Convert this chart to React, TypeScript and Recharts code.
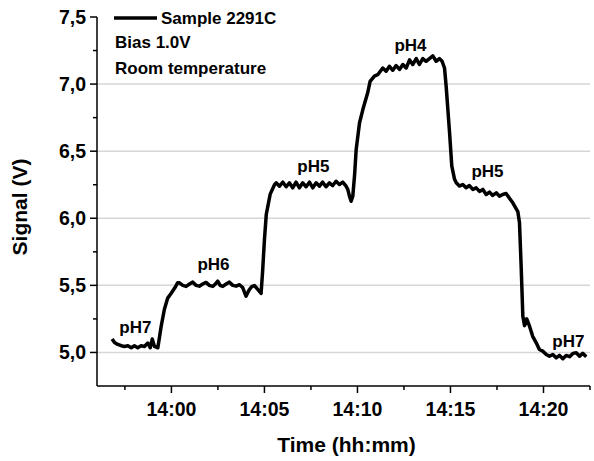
import React from 'react';
import { LineChart, Line, XAxis, YAxis, ReferenceLine, ReferenceDot } from 'recharts';

const FONT = '"Liberation Sans", Arial, Helvetica, sans-serif';

// minutes relative to 14:00
const timeMin = [
  -3.19, -3.06, -2.88, -2.70, -2.52, -2.34, -2.16, -1.99, -1.81, -1.63, -1.45, -1.27, -1.14, -1.03, -0.91, -0.73,
  -0.55, -0.38, -0.2, -0.02, 0.22, 0.34,
  0.43, 0.61, 0.79, 0.97, 1.15, 1.33, 1.5, 1.68, 1.86, 2.04, 2.22, 2.36, 2.49, 2.62, 2.76, 2.94, 3.12, 3.3, 3.48, 3.66, 3.83, 4.01, 4.19, 4.32, 4.46, 4.64, 4.82,
  4.9, 5.0, 5.1, 5.31, 5.54,
  5.63, 5.81, 5.99, 6.17, 6.34, 6.52, 6.7, 6.88, 7.06, 7.24, 7.42, 7.6, 7.78, 7.96, 8.13, 8.31, 8.49, 8.67, 8.85, 9.03, 9.21, 9.39, 9.48, 9.57, 9.66, 9.75,
  9.85, 9.93, 10.11, 10.29, 10.55, 10.68, 10.91,
  11.09, 11.36, 11.54, 11.72, 11.9, 12.08, 12.26, 12.44, 12.62, 12.8, 12.97, 13.16, 13.33, 13.51, 13.69, 13.87, 14.05, 14.23, 14.41, 14.55,
  14.68, 14.77, 14.95, 15.07, 15.22,
  15.31, 15.48, 15.66, 15.84, 16.02, 16.2, 16.38, 16.56, 16.74, 16.92, 17.1, 17.27, 17.46, 17.63, 17.81, 17.99, 18.17, 18.35, 18.62, 18.71,
  18.8, 18.89, 18.98, 19.1, 19.25, 19.42, 19.61, 19.78, 19.96,
  20.15, 20.32, 20.5, 20.68, 20.86, 21.04, 21.22, 21.4, 21.58, 21.76, 21.94, 22.11, 22.3,
];

const signal = [
  5.10, 5.075, 5.06, 5.05, 5.045, 5.05, 5.035, 5.05, 5.035, 5.05, 5.045, 5.07, 5.035, 5.10, 5.045, 5.035,
  5.195, 5.32, 5.405, 5.44, 5.49, 5.52,
  5.519, 5.50, 5.492, 5.51, 5.524, 5.50, 5.494, 5.51, 5.522, 5.50, 5.492, 5.51, 5.531, 5.50, 5.492, 5.51, 5.524, 5.50, 5.494, 5.505, 5.484, 5.42, 5.469, 5.49, 5.499, 5.47, 5.44,
  5.6, 5.84, 6.03, 6.18, 6.25,
  6.264, 6.239, 6.269, 6.235, 6.264, 6.227, 6.269, 6.227, 6.264, 6.235, 6.269, 6.227, 6.264, 6.239, 6.269, 6.235, 6.264, 6.244, 6.276, 6.252, 6.269, 6.239, 6.215, 6.165, 6.127, 6.165,
  6.33, 6.51, 6.71, 6.81, 6.935, 7.02, 7.06,
  7.07, 7.12, 7.096, 7.133, 7.103, 7.138, 7.109, 7.146, 7.12, 7.18, 7.146, 7.19, 7.146, 7.19, 7.17, 7.19, 7.21, 7.17, 7.19, 7.17,
  7.12, 6.98, 6.64, 6.39, 6.29,
  6.264, 6.24, 6.252, 6.227, 6.244, 6.215, 6.227, 6.2, 6.215, 6.177, 6.195, 6.17, 6.19, 6.165, 6.177, 6.185, 6.15, 6.115, 6.05, 5.966,
  5.64, 5.27, 5.2, 5.25, 5.196, 5.12, 5.072, 5.022, 5.01,
  4.985, 4.972, 4.985, 4.96, 4.978, 4.953, 4.978, 4.968, 4.993, 4.998, 4.972, 4.993, 4.968,
];

const xTicks = [-2.5, 0, 2.5, 5, 7.5, 10, 12.5, 15, 17.5, 20, 22.5];
const yTicks = [5, 5.25, 5.5, 5.75, 6, 6.25, 6.5, 6.75, 7, 7.25, 7.5];
const gridValues = [5, 5.5, 6, 6.5, 7];

const phLabels = ['pH7', 'pH6', 'pH5', 'pH4', 'pH5', 'pH7'];
const phT = [-1.94, 2.26, 7.63, 12.85, 16.99, 21.34];
const phV = [5.186, 5.656, 6.386, 7.295, 6.349, 5.082];

const seriesName = 'Sample 2291C';
const notes = ['Bias 1.0V', 'Room temperature'];

const data = timeMin.map((t, i) => ({ t, v: signal[i] }));
const phPoints = phLabels.map((label, i) => ({ label, t: phT[i], v: phV[i] }));

const XTick = (props: any) => {
  const { x, y, payload } = props;
  const val = payload.value as number;
  const major = Math.abs(val % 5) < 1e-9;
  return (
    <g>
      <line x1={x} x2={x} y1={y} y2={y + (major ? 7 : 4)} stroke="#000" strokeWidth={1.5} />
      {major && (
        <text x={x} y={y + 30} textAnchor="middle" fontFamily={FONT} fontWeight="bold" fontSize={19.5} fill="#000">
          {`14:${String(val).padStart(2, '0')}`}
        </text>
      )}
    </g>
  );
};

const YTick = (props: any) => {
  const { x, y, payload } = props;
  const val = payload.value as number;
  const major = Math.abs((val * 2) % 1) < 1e-9;
  return (
    <g>
      <line x1={x - (major ? 7 : 4)} x2={x} y1={y} y2={y} stroke="#000" strokeWidth={1.5} />
      {major && (
        <text x={x - 11} y={y + 7} textAnchor="end" fontFamily={FONT} fontWeight="bold" fontSize={19.5} fill="#000">
          {val.toFixed(1).replace('.', ',')}
        </text>
      )}
    </g>
  );
};

const XTitle = (props: any) => {
  const vb = props.viewBox;
  return (
    <text x={vb.x + vb.width / 2 + 3} y={vb.y + 66} textAnchor="middle" fontFamily={FONT} fontWeight="bold" fontSize={21} fill="#000">
      Time (hh:mm)
    </text>
  );
};

const YTitle = (props: any) => {
  const vb = props.viewBox;
  const cx = vb.x + 27;
  const cy = 207;
  return (
    <text x={cx} y={cy} transform={`rotate(-90 ${cx} ${cy})`} textAnchor="middle" fontFamily={FONT} fontWeight="bold" fontSize={21} fill="#000">
      Signal (V)
    </text>
  );
};

const PhShape = (label: string) => (props: any) => (
  <text x={props.cx} y={props.cy + 6} textAnchor="middle" fontFamily={FONT} fontWeight="bold" fontSize={17} fill="#000">
    {label}
  </text>
);

export default function App() {
  return (
    <div style={{ position: 'absolute', left: 0, top: 0, width: 594, height: 461, background: '#fff' }}>
      <LineChart width={594} height={461} data={data} margin={{ top: 17, right: 4, bottom: 0, left: 0 }}>
        {gridValues.map((g) => (
          <ReferenceLine key={g} y={g} stroke="#d6d6d6" strokeWidth={1.5} ifOverflow="extendDomain" />
        ))}
        <XAxis
          dataKey="t"
          type="number"
          domain={[-4, 22.5]}
          ticks={xTicks}
          interval={0}
          allowDataOverflow
          height={75}
          tickSize={0}
          tickMargin={0}
          tickLine={false}
          axisLine={{ stroke: '#000', strokeWidth: 1.5 }}
          tick={<XTick />}
          label={<XTitle />}
        />
        <YAxis
          type="number"
          domain={[4.75, 7.5]}
          ticks={yTicks}
          interval={0}
          allowDataOverflow
          width={97}
          tickSize={0}
          tickMargin={0}
          tickLine={false}
          axisLine={{ stroke: '#000', strokeWidth: 1.5 }}
          tick={<YTick />}
          label={<YTitle />}
        />
        <Line
          type="linear"
          dataKey="v"
          stroke="#000"
          strokeWidth={3.5}
          dot={false}
          strokeLinejoin="round"
          isAnimationActive={false}
        />
        {phPoints.map((p, i) => (
          <ReferenceDot key={i} x={p.t} y={p.v} r={0} shape={PhShape(p.label)} />
        ))}
      </LineChart>
      <svg width={300} height={90} style={{ position: 'absolute', left: 0, top: 0, pointerEvents: 'none' }}>
        <line x1={114} x2={157} y1={18} y2={18} stroke="#000" strokeWidth={3.5} />
        <text x={161} y={24} fontFamily={FONT} fontWeight="bold" fontSize={17} fill="#000">{seriesName}</text>
        {notes.map((n, i) => (
          <text key={n} x={115} y={48 + i * 26} fontFamily={FONT} fontWeight="bold" fontSize={17} fill="#000">{n}</text>
        ))}
      </svg>
    </div>
  );
}
